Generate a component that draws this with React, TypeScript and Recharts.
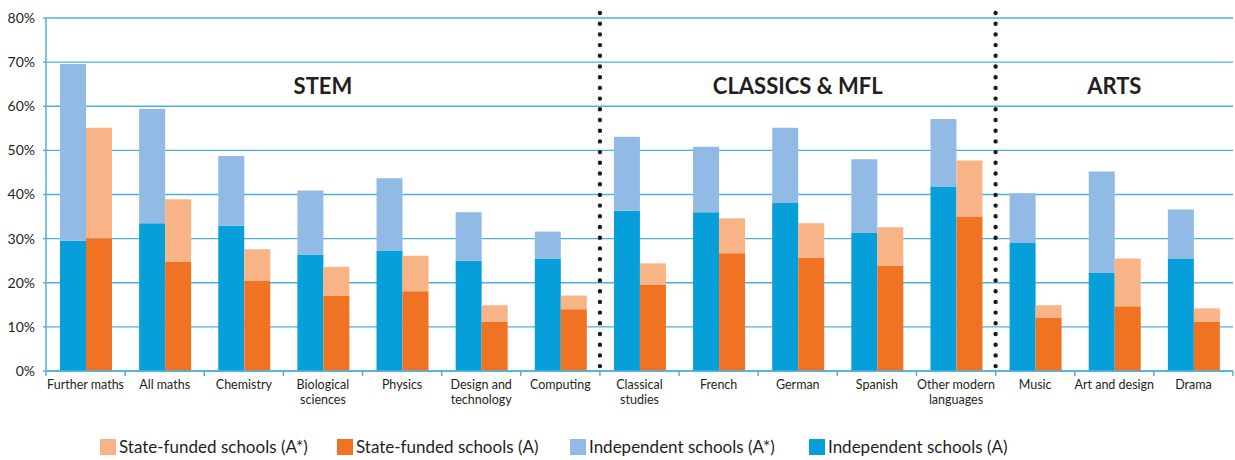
import { BarChart, Bar, XAxis, YAxis, CartesianGrid, ReferenceLine, ReferenceDot } from 'recharts';

const categories = [
    'Further maths',
    'All maths',
    'Chemistry',
    'Biological\nsciences',
    'Physics',
    'Design and\ntechnology',
    'Computing',
    'Classical\nstudies',
    'French',
    'German',
    'Spanish',
    'Other modern\nlanguages',
    'Music',
    'Art and design',
    'Drama',
];

// bottom (A) and top (A*) segments of each stack, in %
const independentA = [29.5, 33.5, 32.9, 26.4, 27.3, 25.0, 25.4, 36.3, 36.0, 38.1, 31.3, 41.8, 29.0, 22.2, 25.4];
const independentAStar = [40.1, 25.9, 15.8, 14.5, 16.4, 11.0, 6.2, 16.8, 14.8, 17.0, 16.7, 15.3, 11.3, 23.0, 11.2];
const stateA = [30.1, 24.7, 20.4, 17.1, 18.1, 11.1, 14.0, 19.6, 26.7, 25.6, 23.9, 34.9, 12.0, 14.7, 11.1];
const stateAStar = [25.0, 14.2, 7.2, 6.5, 8.0, 3.8, 3.1, 4.8, 7.9, 7.9, 8.7, 12.8, 2.9, 10.8, 3.1];

const yTicks = [0, 10, 20, 30, 40, 50, 60, 70, 80];

// group label -> category it is centred on
const groups = [
    { name: 'STEM', at: 'Biological\nsciences' },
    { name: 'CLASSICS & MFL', at: 'German' },
    { name: 'ARTS', at: 'Art and design' },
];
const dividers = ['Classical\nstudies', 'Music'];

const data = categories.map((subject, i) => ({
    subject,
    independentA: independentA[i],
    independentAStar: independentAStar[i],
    stateA: stateA[i],
    stateAStar: stateAStar[i],
}));

const COLORS = {
    indA: '#069fda',
    indAStar: '#91bbe4',
    stA: '#ef7322',
    stAStar: '#f8b486',
    grid: '#4eafe2',
    text: '#231f20',
};

const FONT = 'Lato, "Open Sans", sans-serif';

const legendItems = [
    { label: 'State-funded schools (A*)', color: COLORS.stAStar, left: 100 },
    { label: 'State-funded schools (A)', color: COLORS.stA, left: 337 },
    { label: 'Independent schools (A*)', color: COLORS.indAStar, left: 570 },
    { label: 'Independent schools (A)', color: COLORS.indA, left: 809 },
];

const SubjectTick = ({ x, y, payload, index }: any) => {
    const half = 79.13 / 2;
    const lines = String(payload.value).split('\n');
    return (
        <g>
            <line x1={x - half} x2={x - half} y1={y - 8} y2={y - 3} stroke={COLORS.grid} strokeWidth={1.5} />
            {index === categories.length - 1 && (
                <line x1={x + half} x2={x + half} y1={y - 8} y2={y - 3} stroke={COLORS.grid} strokeWidth={1.5} />
            )}
            <text x={x} y={y + 10} textAnchor="middle" fill={COLORS.text} fontSize={12.5} fontFamily={FONT}>
                {lines.map((l, k) => (
                    <tspan key={k} x={x} dy={k === 0 ? 0 : 15}>{l}</tspan>
                ))}
            </text>
        </g>
    );
};

const DottedDivider = (props: any) => {
    const { x1, y1, y2 } = props;
    return (
        <line
            x1={x1}
            x2={x1}
            y1={Math.min(y1, y2) - 5}
            y2={Math.max(y1, y2) - 4}
            stroke="#1a1a1a"
            strokeWidth={4.4}
            strokeLinecap="round"
            strokeDasharray="0 10.7"
        />
    );
};

export default function App() {
    return (
        <div style={{ position: 'absolute', left: 0, top: 0, width: 1235, height: 460, background: '#fff' }}>
            <BarChart
                width={1235}
                height={460}
                data={data}
                margin={{ top: 18, right: 2, left: 0, bottom: 0 }}
                barGap={0}
                barSize={26}
            >
                <CartesianGrid vertical={false} stroke={COLORS.grid} strokeWidth={1.4} />

                <XAxis
                    dataKey="subject"
                    height={89}
                    interval={0}
                    axisLine={{ stroke: COLORS.grid, strokeWidth: 1.5 }}
                    tickLine={false}
                    tick={<SubjectTick />}
                />
                <YAxis
                    width={46}
                    domain={[0, 80]}
                    ticks={yTicks}
                    tickFormatter={(v) => `${v}%`}
                    axisLine={{ stroke: COLORS.grid, strokeWidth: 1.5 }}
                    tickLine={{ stroke: COLORS.grid, strokeWidth: 1.4 }}
                    tickSize={3}
                    tickMargin={8}
                    tick={{ fill: COLORS.text, fontSize: 14, fontFamily: FONT }}
                />

                <Bar dataKey="independentA" stackId="ind" fill={COLORS.indA} isAnimationActive={false} />
                <Bar dataKey="independentAStar" stackId="ind" fill={COLORS.indAStar} isAnimationActive={false} />
                <Bar dataKey="stateA" stackId="state" fill={COLORS.stA} isAnimationActive={false} />
                <Bar dataKey="stateAStar" stackId="state" fill={COLORS.stAStar} isAnimationActive={false} />

                {dividers.map((d) => (
                    <ReferenceLine key={d} x={d} position="start" shape={<DottedDivider />} />
                ))}

                {groups.map((g) => (
                    <ReferenceDot
                        key={g.name}
                        x={g.at}
                        y={64.5}
                        r={0}
                        fill="none"
                        stroke="none"
                        label={{
                            value: g.name,
                            position: 'center',
                            fill: COLORS.text,
                            fontSize: 22,
                            fontWeight: 700,
                            fontFamily: FONT,
                        }}
                    />
                ))}
            </BarChart>

            {legendItems.map((item) => (
                <div
                    key={item.label}
                    style={{
                        position: 'absolute',
                        left: item.left,
                        top: 437,
                        display: 'flex',
                        alignItems: 'center',
                        fontFamily: FONT,
                        fontSize: 17,
                        lineHeight: '20px',
                        color: COLORS.text,
                        whiteSpace: 'nowrap',
                    }}
                >
                    <span style={{ width: 16, height: 16, background: item.color, marginRight: 3, display: 'inline-block' }} />
                    {item.label}
                </div>
            ))}
        </div>
    );
}
